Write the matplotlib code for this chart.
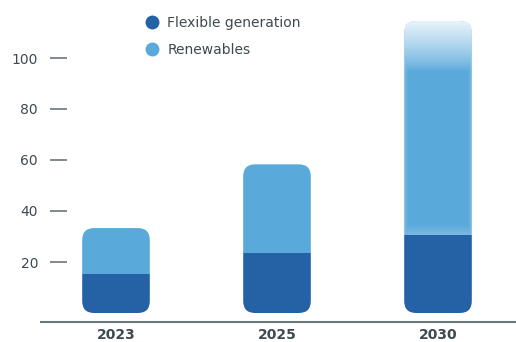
import numpy as np
import matplotlib
matplotlib.use("Agg")
import matplotlib.pyplot as plt
from matplotlib.patches import FancyBboxPatch
from matplotlib.lines import Line2D

years = ["2023", "2025", "2030"]
flexible = [15.3, 23.5, 30.5]
renewables = [18.0, 34.8, 84.0]
yticks = [20, 40, 60, 80, 100]
series_names = ["Flexible generation", "Renewables"]

DARK = "#2561a5"
LIGHT = "#59a9db"
TEXT = "#3f4a50"
GRAY = "#6b767c"

plt.rcParams["font.family"] = ["DejaVu Sans"]

W, H = 516, 342
fig = plt.figure(figsize=(W / 100, H / 100), dpi=100)
ax = fig.add_axes([67 / W, 20 / H, (W - 67) / W, 322 / H])

ppu_y = 2.55
ax.set_ylim(-9 / ppu_y, -9 / ppu_y + 322 / ppu_y)
ax.set_xlim(-49 / 161, 400 / 161)

x = np.arange(len(years))
width = 0.42
b1 = ax.bar(x, flexible, width, color=DARK, zorder=2, linewidth=0)
b2 = ax.bar(x, renewables, width, bottom=flexible, color=LIGHT, zorder=2, linewidth=0)

# rounded clip
fig.canvas.draw()
p0 = ax.transData.transform((0, 0))
p1 = ax.transData.transform((1, 1))
px_x = p1[0] - p0[0]
px_y = p1[1] - p0[1]
r_px = 12
r = r_px / px_x
aspect = (1 / px_y) / (1 / px_x)

for i in range(len(years)):
    total = flexible[i] + renewables[i]
    clip = FancyBboxPatch((x[i] - width / 2, 0), width, total,
                          boxstyle=f"round,pad=0,rounding_size={r}",
                          mutation_aspect=aspect, transform=ax.transData)
    b1[i].set_clip_path(clip)
    b2[i].set_clip_path(clip)
    if i == len(years) - 1:
        y0 = flexible[i]
        y1 = total
        ny, nx = 300, 100
        ys = np.linspace(y1, y0, ny)[:, None]
        xs = np.linspace(0, 1, nx)[None, :]
        fade_top = np.clip((ys - (y1 - 20)) / 20, 0, 1) ** 0.8 * 0.88
        fade_bot = np.clip(1 - (ys - y0) / 4, 0, 1) * 0.2
        edge = np.minimum(xs, 1 - xs)
        fade_edge = np.clip(1 - edge / 0.06, 0, 1) * 0.2
        alpha = np.clip(np.maximum(np.maximum(fade_top, fade_bot), fade_edge + fade_top * 0.5), 0, 0.92)
        img = np.ones((ny, nx, 4))
        img[..., 3] = alpha
        im = ax.imshow(img, extent=[x[i] - width / 2, x[i] + width / 2, y0, y1],
                       aspect="auto", zorder=3, interpolation="bilinear")
        im.set_clip_path(clip)

ax.set_ylim(-9 / ppu_y, -9 / ppu_y + 322 / ppu_y)
ax.set_xlim(-49 / 161, 400 / 161)

for s in ax.spines.values():
    s.set_visible(False)

ax.set_yticks(yticks)
ax.set_yticklabels([str(t) for t in yticks])
ax.tick_params(axis="y", length=17 * 0.72, width=1.2, color=GRAY, pad=12 * 0.72,
               labelsize=10, labelcolor=TEXT)
ax.set_xticks(x)
ax.set_xticklabels(years, fontweight="bold")
ax.tick_params(axis="x", length=0, pad=4.5, labelsize=10, labelcolor=TEXT)

ax.plot([(41 - 67) / (W - 67), 1], [0, 0], transform=ax.transAxes, color=GRAY,
        lw=1.5, clip_on=False, zorder=4)

handles = [Line2D([], [], marker="o", ls="", color=DARK, markersize=9),
           Line2D([], [], marker="o", ls="", color=LIGHT, markersize=9)]
fig.legend(handles, series_names, loc="upper left", bbox_to_anchor=(138 / W, 1 - 10 / H),
           frameon=False, fontsize=10, labelcolor=TEXT, handletextpad=0.5,
           labelspacing=0.95, handlelength=1.2, borderaxespad=0)

fig.savefig("out.png", dpi=100)
